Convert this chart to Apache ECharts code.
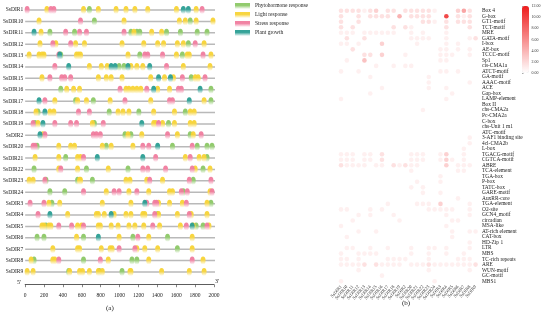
<!DOCTYPE html>
<html><head><meta charset="utf-8">
<script src="https://cdn.jsdelivr.net/npm/echarts@6/dist/echarts.min.js"></script>
<style>html,body{margin:0;padding:0;background:#fff}#c{width:550px;height:321px}</style>
</head><body><div id="c"></div>
<script>
// ---------- Panel (a): promoter cis-elements ----------
const genes = ['SsDIR1','SsDIR10','SsDIR11','SsDIR12','SsDIR13','SsDIR14','SsDIR15','SsDIR16','SsDIR17','SsDIR18','SsDIR19','SsDIR2','SsDIR20','SsDIR21','SsDIR22','SsDIR23','SsDIR24','SsDIR3','SsDIR4','SsDIR5','SsDIR6','SsDIR7','SsDIR8','SsDIR9'];
const siteTypes = ['Phytohormone response','Light response','Stress response','Plant growth'];
const typeCodes = ['G','Y','P','T'];
// each gene: "code+position"
const sites_SsDIR1  = 'P21 Y230 P272 P304 Y618 G680 Y775 Y963 Y1068 Y1162 Y1298 Y1602 T1675 T1728 Y1811 P1874';
const sites_SsDIR10 = 'Y147 P586 G733 Y1047 Y1633 Y1696 G1748 Y1811 Y1989';
const sites_SsDIR11 = 'T94 Y168 G262 P429 G523 P576 P649 P1047 G1120 Y1152 G1183 G1214 Y1340 Y1445 G1497 G1644 G1822 G1926';
const sites_SsDIR12 = 'Y157 P293 Y325 P482 Y534 Y628 Y1026 Y1256 Y1403 Y1466 Y1612 Y1675 G1728 P1801 Y1895';
const sites_SsDIR13 = 'Y42 Y147 Y178 Y199 P356 T366 G377 Y544 Y565 Y586 Y1089 G1214 P1267 P1298 P1455 Y1602 G1665 Y1717 Y1738 P1884 Y1968';
const sites_SsDIR14 = 'P314 T461 Y680 Y806 Y869 T911 T953 G995 G1047 T1089 Y1120 Y1183 Y1246 T1319 P1497 Y1675 Y1958';
const sites_SsDIR15 = 'Y178 P262 P387 P419 P482 Y775 Y859 Y911 Y1026 Y1330 T1413 Y1476 T1539 Y1570 P1665 G1759 Y1801 Y1832 P1905';
const sites_SsDIR16 = 'G377 Y440 Y513 Y576 P1005 Y1068 Y1099 Y1141 Y1183 Y1225 P1288 T1361 Y1403 Y1529 P1623 P1654 T1853 G1968';
const sites_SsDIR17 = 'T147 P209 Y314 G534 Y555 Y649 G722 Y900 P1057 Y1330 P1529 P1560 T1738 Y1895 G1968';
const sites_SsDIR18 = 'Y115 G136 T209 Y262 Y304 P565 P680 G890 Y984 Y1036 Y1099 G1204 Y1361 Y1581 G1696 Y1748 Y1790';
const sites_SsDIR19 = 'P84 G105 Y136 T188 P314 P482 P544 Y712 G733 P827 T1235 Y1361 Y1382 P1413 Y1455 G1518 Y1581 Y1748 Y1790';
const sites_SsDIR2  = 'T157 Y188 P209 P722 P754 P796 G1057 Y1089 G1120 Y1235 P1508 Y1612 G1748 Y1780 P1864';
const sites_SsDIR20 = 'P84 P105 G126 Y356 Y482 Y523 Y817 G859 Y911 Y1141 P1246 P1309 T1403 G1560 P1769 G1822 G1926 G1979';
const sites_SsDIR21 = 'Y105 Y356 G429 Y555 Y586 P618 T764 T1246 P1382 Y1696 P1748 Y1843 Y1895 G1926';
const sites_SsDIR22 = 'G94 Y356 P377 Y555 G649 Y880 G1089 P1246 P1298 P1487 P1769 Y1801 G1884 Y1958';
const sites_SsDIR23 = 'Y42 Y84 P209 G220 G555 Y576 Y586 G712 Y1068 Y1110 Y1288 P1319 Y1455 P1738 G1780 P1968';
const sites_SsDIR24 = 'G262 G419 P618 Y859 P942 P995 Y1099 P1183 Y1309 Y1529 Y1560 P1654 G1675 P1717 Y1958 P1979';
const sites_SsDIR3  = 'P52 P199 Y251 G283 Y366 Y817 Y1120 T1267 P1288 P1372 P1392 Y1413 Y1529 Y1665 P1707 Y1926 G1968';
const sites_SsDIR4  = 'P136 T262 Y450 Y754 Y775 Y838 T911 Y942 Y1068 Y1120 Y1246 Y1267 P1372 G1403 Y1413 Y1612 P1738 Y1759 Y1926';
const sites_SsDIR5  = 'Y178 Y199 G220 Y251 Y272 P356 P492 Y555 Y597 P618 Y775 Y796 Y911 Y984 Y1099 Y1162 Y1256 P1351 Y1424 Y1644 P1707 T1769 Y1780 G1811 G1884 P1926 Y1947';
const sites_SsDIR6  = 'G126 G199 Y544 G618 T775 Y995 G1141 P1193 Y1309 G1508 Y1769';
const sites_SsDIR7  = 'Y293 Y555 Y576 Y806 Y900 Y921 P995 P1162 Y1183 Y1267 Y1403 G1612 Y1769';
const sites_SsDIR8  = 'Y63 G94 Y293 Y314 P356 G618 P796 Y880 G1131 G1183 Y1309 P1769 Y1884';
const sites_SsDIR9  = 'Y21 Y84 G461 Y471 Y576 Y607 Y680 Y775 G785 Y817 G1026 Y1110 Y1120 Y1445 Y1738 Y1895';
const siteRows = [sites_SsDIR1,sites_SsDIR10,sites_SsDIR11,sites_SsDIR12,sites_SsDIR13,sites_SsDIR14,sites_SsDIR15,sites_SsDIR16,sites_SsDIR17,sites_SsDIR18,sites_SsDIR19,sites_SsDIR2,sites_SsDIR20,sites_SsDIR21,sites_SsDIR22,sites_SsDIR23,sites_SsDIR24,sites_SsDIR3,sites_SsDIR4,sites_SsDIR5,sites_SsDIR6,sites_SsDIR7,sites_SsDIR8,sites_SsDIR9];
const posTicks = [0,200,400,600,800,1000,1200,1400,1600,1800,2000];

// ---------- Panel (b): element counts heat dots ----------
const elementNames = ['Box 4','G-box','GT1-motif','TCT-motif','MRE','GATA-motif','I-box','AE-box','TCCC-motif','Sp1','cis-CMA1a','ATCT-motif','GA-motif','AAAC-motif','ACE','Gap-box','LAMP-element','Box II','chs-CMA2a','Pc-CMA2a','C-box','chs-Unit 1 m1','ATC-motif','3-AF1 binding site','4cl-CMA2b','L-box','TGACG-motif','CGTCA-motif','ABRE','TCA-element','TGA-box','P-box','TATC-box','GARE-motif','AuxRR-core','TGA-element','O2-site','GCN4_motif','circadian','MSA-like','AT-rich element','CAT-box','HD-Zip 1','LTR','MBS','TC-rich repeats','ARE','WUN-motif','GC-motif','MBS1'];
const heatGenes = genes;
const heatValues = [
 [2,2,2,2,1,2,3,0,2,2,0,2,2,2,2,2,1,0,0,0,3,6,2,0],
 [2,0,0,2,0,2,2,2,2,0,5,0,2,2,2,2,0,0,12,0,2,1,2,0],
 [2,0,0,2,0,0,0,0,0,0,0,0,0,0,2,2,1,0,2,0,2,2,2,0],
 [2,0,2,0,0,0,0,0,0,2,0,2,1,0,0,0,0,0,2,0,0,0,2,0],
 [1,1,1,0,1,1,1,1,1,1,0,0,1,0,1,0,0,0,1,0,0,0,0,0],
 [0,2,0,0,2,0,0,0,0,0,0,0,1,1,1,1,0,0,1,0,0,0,1,2],
 [1,1,0,1,0,0,0,3,0,0,0,0,0,1,0,0,0,0,1,0,1,0,0,0],
 [0,0,2,0,0,0,0,0,0,0,0,0,0,0,0,0,0,1,1,0,1,0,1,0],
 [0,0,0,0,2,2,0,3,0,0,0,1,0,0,0,0,0,1,1,1,0,0,1,0],
 [0,1,0,0,4,0,0,0,0,0,0,0,0,0,0,0,0,1,1,0,0,0,0,0],
 [0,0,0,0,0,0,1,0,0,1,0,1,1,0,0,0,0,0,0,0,0,0,0,0],
 [1,0,0,1,0,0,0,0,0,0,0,0,0,0,0,0,0,1,1,0,1,0,0,0],
 [0,0,0,0,0,1,0,0,0,0,0,0,0,0,0,1,0,0,0,0,0,0,0,0],
 [0,0,0,0,0,0,0,0,0,0,0,0,0,0,0,1,0,0,0,0,0,0,1,0],
 [0,0,0,0,0,0,0,1,0,0,0,0,0,0,0,1,0,0,1,0,0,0,0,0],
 [0,0,0,0,0,1,0,0,0,0,0,0,0,0,0,0,0,0,0,1,0,0,0,0],
 [1,0,0,0,0,0,0,0,0,0,0,0,0,0,0,0,0,0,1,0,0,0,0,0],
 [0,0,0,0,0,0,0,0,0,0,0,0,0,0,0,0,0,0,0,0,0,0,0,0],
 [0,0,0,0,0,0,0,0,0,0,0,0,0,0,1,0,0,0,0,0,0,0,0,0],
 [0,0,0,0,0,0,0,0,0,0,0,0,0,0,0,0,0,0,0,0,0,0,0,0],
 [0,0,0,0,0,0,0,0,0,0,0,0,0,0,0,0,0,0,0,0,0,0,0,0],
 [0,0,0,0,0,0,0,0,0,0,0,0,0,0,0,0,0,0,0,0,0,0,0,0],
 [0,0,0,0,0,0,0,0,0,0,0,0,0,0,0,0,0,0,0,0,0,0,0,0],
 [0,0,0,0,0,0,0,0,0,0,0,0,0,0,0,0,0,0,0,0,0,0,1,0],
 [0,0,0,0,0,0,0,0,0,0,0,0,0,0,0,0,0,0,0,0,0,0,1,0],
 [0,0,0,0,0,0,0,0,0,0,0,0,0,0,0,0,0,0,0,0,0,1,0,0],
 [1,1,1,0,1,1,0,2,0,0,0,0,1,1,1,0,0,1,3,0,0,1,0,0],
 [1,1,1,0,1,1,0,2,0,0,0,0,1,1,1,0,0,1,3,1,0,1,0,0],
 [2,1,1,1,1,0,1,1,0,2,1,2,1,1,0,0,0,0,3,0,1,1,1,0],
 [0,0,0,0,0,0,0,0,0,0,0,0,1,0,0,0,0,0,0,0,1,1,0,0],
 [0,0,0,0,0,0,0,0,0,0,0,0,0,0,0,0,0,1,0,0,0,0,0,0],
 [0,0,0,0,0,0,0,0,0,0,0,0,0,1,0,0,0,1,0,0,0,0,0,0],
 [0,0,0,0,0,0,0,0,0,0,0,0,1,0,1,0,0,0,0,0,0,0,0,0],
 [0,0,0,0,0,0,0,0,0,0,0,0,0,0,1,0,0,1,0,0,0,0,0,0],
 [0,0,0,0,0,0,0,0,0,0,0,0,0,0,0,0,0,0,0,0,1,0,0,0],
 [0,0,0,0,0,0,0,0,1,0,0,0,0,1,1,1,0,3,0,0,0,0,1,0],
 [1,1,0,0,0,1,0,1,0,0,0,0,0,0,0,1,1,1,1,1,0,0,1,0],
 [0,0,0,1,0,1,0,0,0,1,0,0,0,0,0,0,0,0,1,0,0,0,1,0],
 [0,0,1,0,0,0,0,0,0,0,1,0,0,0,0,0,0,0,0,1,1,0,0,0],
 [1,0,0,0,0,0,0,0,0,0,0,0,0,0,0,0,0,0,1,0,0,0,0,0],
 [0,0,0,1,0,0,1,0,0,0,0,0,0,0,0,0,0,0,0,1,0,0,1,1],
 [0,1,0,0,0,0,0,0,0,0,0,0,0,0,0,0,0,0,0,1,0,0,0,0],
 [0,0,0,0,0,0,0,0,0,0,0,0,0,0,0,0,0,0,0,0,0,0,1,0],
 [0,1,1,0,0,1,0,0,1,0,0,0,1,0,0,1,1,0,1,0,0,0,1,0],
 [1,0,0,1,1,1,1,0,0,0,0,0,1,0,0,1,0,0,1,0,0,1,0,0],
 [1,1,0,1,0,0,0,0,1,1,1,1,0,0,0,1,0,0,0,0,1,1,1,0],
 [1,1,1,1,2,0,2,1,1,1,1,0,1,1,1,2,1,1,1,1,1,1,1,2],
 [0,0,0,1,0,0,0,0,0,0,0,0,0,0,0,1,0,0,0,0,0,0,1,0],
 [0,0,0,0,0,0,0,1,0,0,0,0,0,0,0,0,0,0,0,0,0,0,0,0],
 [1,0,0,0,0,0,0,0,0,0,0,0,0,0,0,0,1,0,0,0,0,0,0,0]
];
const colorTicks = [0,2,4,6,8,10,12];

// ---------- build ----------
const serif = '"Liberation Serif","DejaVu Serif",serif';
const typeColors = ['#8cc866','#f7d335','#f07c9e','#2a9e93'];
function grad(c){
  return new echarts.graphic.LinearGradient(0,0,0,1,[{offset:0,color:c},{offset:0.4,color:c},{offset:1,color:'#ffffff'}]);
}
const perType = typeCodes.map(()=>[]);
siteRows.forEach((row,gi)=>{
  row.split(' ').forEach(tok=>{
    const t = typeCodes.indexOf(tok[0]);
    perType[t].push([+tok.slice(1), genes[gi]]);
  });
});
const heatData = [];
heatValues.forEach((r,ri)=>r.forEach((v,ci)=>{ if(v>0) heatData.push([heatGenes[ci], elementNames[ri], v]); }));

const chart = echarts.init(document.getElementById('c'), null, {renderer:'canvas'});
const series = [
  {type:'custom', xAxisIndex:0, yAxisIndex:0, silent:true, z:1,
   data: genes.map(g=>[0,g]),
   renderItem:(params,api)=>{
     const a = api.coord([0, api.value(1)]), b = api.coord([2000, api.value(1)]);
     return {type:'line', shape:{x1:a[0],y1:a[1],x2:b[0]+1,y2:b[1]}, style:{stroke:'#b9b9b9', lineWidth:1.5}};
   }}
];
siteTypes.forEach((name,i)=>{
  series.push({type:'scatter', name, xAxisIndex:0, yAxisIndex:0, z:3,
    symbol:'circle', symbolSize:[5,8], data: perType[i],
    itemStyle:{color:grad(typeColors[i]), opacity:0.95}});
});
series.push({type:'scatter', name:'heat', xAxisIndex:1, yAxisIndex:1, symbol:'circle', symbolSize:4.6, data: heatData});

chart.setOption({
  animation:false,
  textStyle:{fontFamily:serif},
  grid:[
    {left:23, width:191, top:4.3, height:273.4},
    {left:338.1, width:140.4, top:7.94, height:276},
    {left:522, width:7, top:6, height:67}
  ],
  xAxis:[
    {type:'value', gridIndex:0, min:0, max:2000, interval:200, offset:7,
     axisLine:{show:true, lineStyle:{color:'#333', width:0.8}},
     axisTick:{show:true, length:2.5, lineStyle:{color:'#333', width:0.6}},
     axisLabel:{fontSize:5.5, color:'#222', margin:8, fontFamily:serif, formatter:v=>String(v)},
     splitLine:{show:false}},
    {type:'category', gridIndex:1, data: heatGenes,
     axisLine:{show:false}, axisTick:{show:false},
     axisLabel:{rotate:50, fontSize:4.6, color:'#333', margin:2, interval:0, fontFamily:serif}},
    {type:'value', gridIndex:2, show:false, min:0, max:1}
  ],
  yAxis:[
    {type:'category', gridIndex:0, data: genes, inverse:true,
     axisLine:{show:false}, axisTick:{show:false},
     axisLabel:{fontSize:5.5, color:'#222', margin:2, fontFamily:serif}},
    {type:'category', gridIndex:1, data: elementNames, inverse:true, position:'right',
     axisLine:{show:false}, axisTick:{show:false},
     axisLabel:{fontSize:5.4, color:'#222', margin:3.5, interval:0, fontFamily:serif}},
    {type:'value', gridIndex:2, position:'right', min:0, max:12, interval:2,
     axisLine:{show:false}, axisTick:{show:true, length:1.5, inside:false, lineStyle:{color:'#555',width:0.5}},
     axisLabel:{fontSize:4, color:'#333', margin:2.5, formatter:v=>v.toFixed(2), fontFamily:serif},
     splitLine:{show:false}}
  ],
  visualMap:{type:'continuous', seriesIndex: series.length-1, min:0, max:12, calculable:false,
    inRange:{color:['#ffffff','#ee1c1c']}, left:522, top:6, itemWidth:7, itemHeight:67,
    padding:0, text:null, showLabel:false, hoverLink:false},
  legend:{data: siteTypes, orient:'vertical', left:235, top:3, itemWidth:15, itemHeight:6, itemGap:3,
    icon:'rect', padding:0, textStyle:{fontSize:5.5, color:'#222', fontFamily:serif}},
  graphic:[
    {type:'text', left:17, top:279, style:{text:"5'", fontSize:6, fill:'#222', fontFamily:serif}},
    {type:'text', left:215, top:278, style:{text:"3'", fontSize:6, fill:'#222', fontFamily:serif}},
    {type:'text', left:106, top:305, style:{text:'(a)', fontSize:7, fill:'#222', fontFamily:serif}},
    {type:'text', left:402, top:300, style:{text:'(b)', fontSize:7, fill:'#222', fontFamily:serif}}
  ],
  series
});
</script></body></html>
